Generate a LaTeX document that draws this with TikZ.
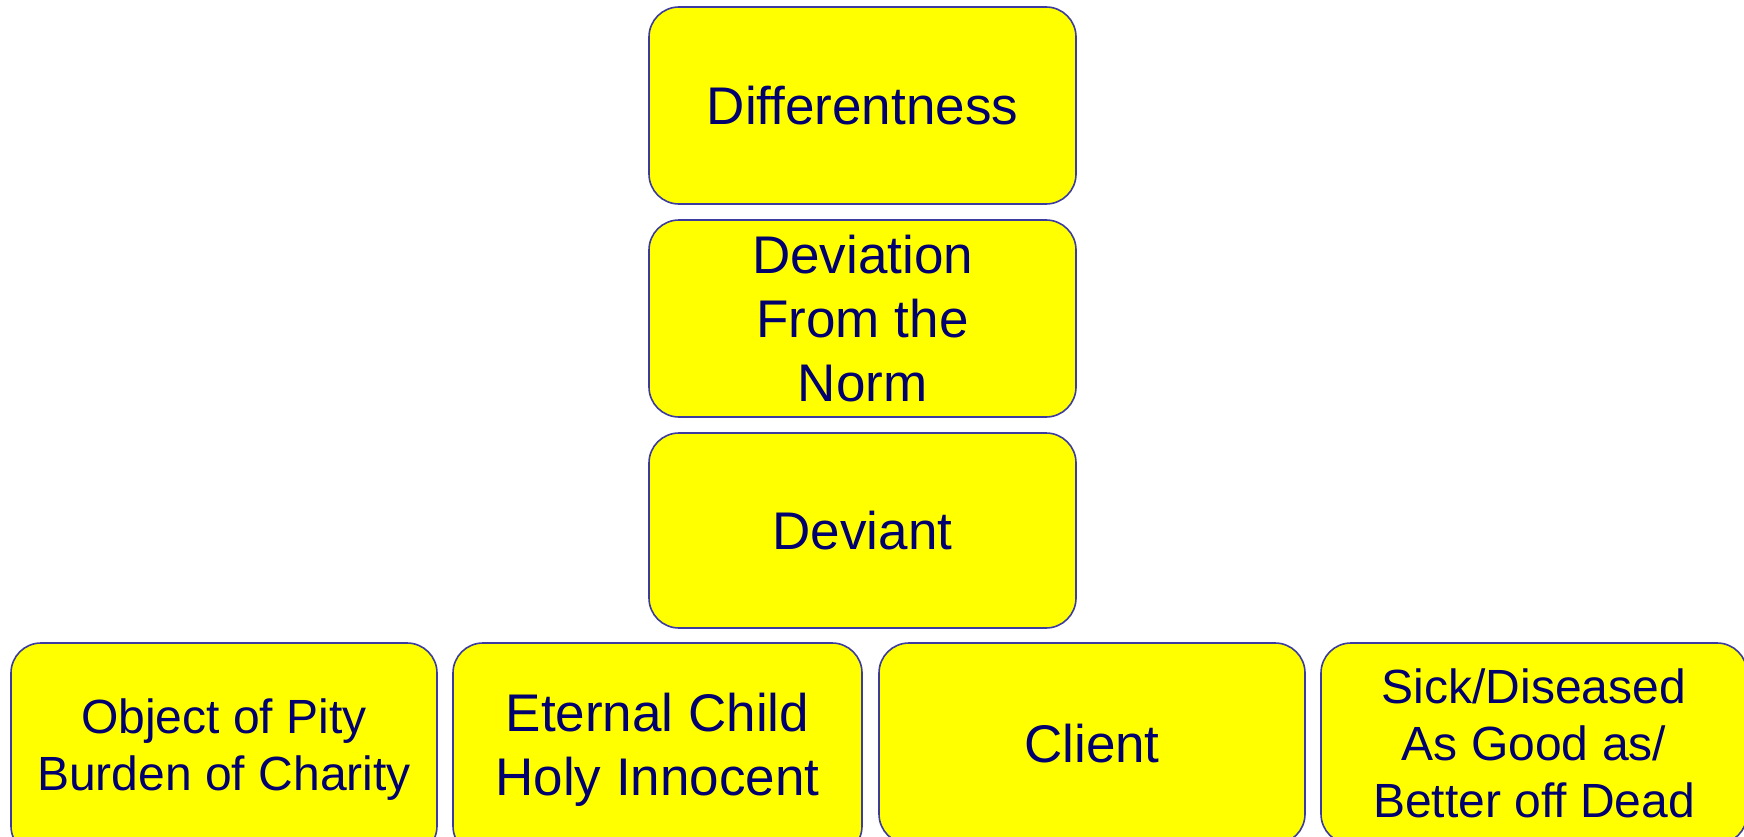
\documentclass[tikz,border=0pt]{standalone}
\usepackage{fontspec}
\setmainfont{Liberation Sans}
\definecolor{boxfill}{RGB}{255,255,0}
\definecolor{boxline}{RGB}{60,60,160}
\definecolor{boxtext}{RGB}{0,0,110}
\tikzset{
  stage/.style={draw=boxline, fill=boxfill, line width=1.6pt, rounded corners=30pt,
    text=boxtext, align=center, inner sep=0pt, minimum height=197pt,
    font=\fontsize{53}{64}\selectfont},
  small/.style={font=\fontsize{48}{57}\selectfont}
}
\begin{document}
\begin{tikzpicture}[x=1pt,y=-1pt]

\useasboundingbox (0,0) rectangle (1744,837);

% central column
\node[stage, minimum width=427pt] (differ) at (862.5,105.5) {Differentness};
\node[stage, minimum width=427pt] (deviation) at (862.5,318.5) {Deviation\\From the\\Norm};
\node[stage, minimum width=427pt, minimum height=195pt] (deviant) at (862.5,530.5) {Deviant};

% bottom row (boxes run off the lower edge)
\node[stage, small, minimum width=426pt, minimum height=213pt] (pity) at (224,749.5) {Object of Pity\\Burden of Charity};
\node[stage, minimum width=409pt, minimum height=213pt] (child) at (657.5,749.5) {Eternal Child\\Holy Innocent};
\node[stage, minimum width=426pt, minimum height=201pt] (client) at (1092,743.5) {Client};
\node[stage, small, minimum width=426pt, minimum height=201pt] (sick) at (1534,743.5) {Sick/Diseased\\As Good as/\\Better off Dead};

\end{tikzpicture}
\end{document}
